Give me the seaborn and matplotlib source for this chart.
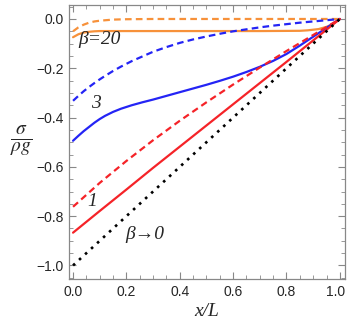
import numpy as np
import pandas as pd
import seaborn as sns
import matplotlib.pyplot as plt
import matplotlib.transforms as mtransforms
from matplotlib.ticker import MultipleLocator

# values
x_lin = [0.0, 1.0]
y_lin = [-1.0, 0.0]

x_b1 = [0.0, 0.1, 0.2, 0.3, 0.4, 0.5, 0.6, 0.7, 0.8, 0.9, 1.0]
y_b1_solid = [-0.867, -0.779, -0.692, -0.604, -0.518, -0.432, -0.346, -0.260, -0.174, -0.087, 0.0]
y_b1_dash = [-0.762, -0.665, -0.576, -0.492, -0.413, -0.338, -0.266, -0.197, -0.130, -0.065, 0.0]

x_b3 = [0.0, 0.02, 0.04, 0.06, 0.08, 0.1, 0.12, 0.15, 0.18, 0.22, 0.26, 0.3, 0.35, 0.4, 0.45,
        0.5, 0.55, 0.6, 0.65, 0.7, 0.75, 0.8, 0.85, 0.9, 0.95, 1.0]
y_b3_solid = [-0.494, -0.474, -0.455, -0.438, -0.421, -0.406, -0.393, -0.377, -0.364, -0.350,
              -0.338, -0.327, -0.312, -0.297, -0.282, -0.267, -0.251, -0.234, -0.215, -0.194,
              -0.170, -0.142, -0.108, -0.072, -0.036, 0.0]
y_b3_dash = [-0.332, -0.312, -0.293, -0.276, -0.260, -0.245, -0.231, -0.211, -0.193, -0.171,
             -0.152, -0.133, -0.114, -0.097, -0.083, -0.071, -0.060, -0.050, -0.042, -0.034,
             -0.027, -0.021, -0.015, -0.010, -0.005, 0.0]

x_b20 = [0.0, 0.02, 0.04, 0.06, 0.08, 0.1, 0.15, 0.2, 0.3, 0.5, 0.7, 0.85, 0.88, 0.92, 0.95, 0.97, 0.99, 1.0]
y_b20_solid = [-0.074, -0.062, -0.055, -0.052, -0.050, -0.049, -0.049, -0.049, -0.049, -0.049,
               -0.049, -0.048, -0.046, -0.041, -0.032, -0.022, -0.008, 0.0]
y_b20_dash = [-0.050, -0.034, -0.023, -0.015, -0.010, -0.007, -0.0025, -0.001, 0.0, 0.0,
              0.0, 0.0, 0.0, 0.0, 0.0, 0.0, 0.0, 0.0]

orange = '#F7913A'
blue = '#2424F5'
red = '#F52328'

sns.set_style('ticks')
plt.rcParams['font.family'] = ['Liberation Sans', 'DejaVu Sans']
plt.rcParams['mathtext.fontset'] = 'stix'

fig = plt.figure(figsize=(3.47, 3.29), dpi=100)
ax = fig.add_axes([0.199, 0.152, 0.795, 0.833])

lw = 1.6
dash = (3, 1.9)
sns.lineplot(x=x_b20, y=y_b20_dash, ax=ax, color=orange, lw=lw)
ax.lines[-1].set_dashes(dash)
sns.lineplot(x=x_b20, y=y_b20_solid, ax=ax, color=orange, lw=lw)
sns.lineplot(x=x_b3, y=y_b3_dash, ax=ax, color=blue, lw=lw)
ax.lines[-1].set_dashes(dash)
sns.lineplot(x=x_b3, y=y_b3_solid, ax=ax, color=blue, lw=lw)
sns.lineplot(x=x_b1, y=y_b1_dash, ax=ax, color=red, lw=lw)
ax.lines[-1].set_dashes(dash)
sns.lineplot(x=x_b1, y=y_b1_solid, ax=ax, color=red, lw=lw)
sns.lineplot(x=x_lin, y=y_lin, ax=ax, color='black', lw=1.9)
ax.lines[-1].set_dashes((1, 2.1))

ax.set_xlim(-0.015, 1.019)
ax.set_ylim(-1.055, 0.057)
ax.xaxis.set_major_locator(MultipleLocator(0.2))
ax.xaxis.set_minor_locator(MultipleLocator(0.05))
ax.yaxis.set_major_locator(MultipleLocator(0.2))
ax.yaxis.set_minor_locator(MultipleLocator(0.05))
ax.xaxis.set_major_formatter(lambda v, p: f'{v:.1f}'.replace('-', '\u2212'))
ax.yaxis.set_major_formatter(lambda v, p: f'{v:.1f}'.replace('-', '\u2212'))
ax.tick_params(which='both', direction='in', top=True, right=True, color='#888888',
               labelsize=10, pad=4)
ax.tick_params(which='major', length=5, width=0.8)
ax.tick_params(which='minor', length=3, width=0.6)
for s in ax.spines.values():
    s.set_color('#888888')
    s.set_linewidth(0.9)

# keep the last x tick label inside the figure
fig.canvas.draw()
last = [t for t in ax.get_xticklabels() if t.get_text() == '1.0'][0]
last.set_transform(last.get_transform() + mtransforms.ScaledTranslation(-4 / 100, 0, fig.dpi_scale_trans))

serif = ['Liberation Serif', 'DejaVu Serif']
ax.text(0.098, -0.085, 'β=20', family=serif, style='italic', fontsize=14, ha='center', va='center')
ax.text(0.086, -0.342, '3', family=serif, style='italic', fontsize=14, ha='center', va='center')
ax.text(0.07, -0.742, '1', family=serif, style='italic', fontsize=14, ha='center', va='center')
ax.text(0.27, -0.876, 'β→0', family=serif, style='italic', fontsize=14, ha='center', va='center')

ax.set_xlabel('x/L', family=serif, style='italic', fontsize=14, labelpad=3)
ax.set_ylabel('')
fig.text(21 / 347, 1 - 141 / 329, r'$\frac{\sigma}{\rho g}$', fontsize=20, ha='center', va='center')

fig.savefig('out.png', dpi=100)
